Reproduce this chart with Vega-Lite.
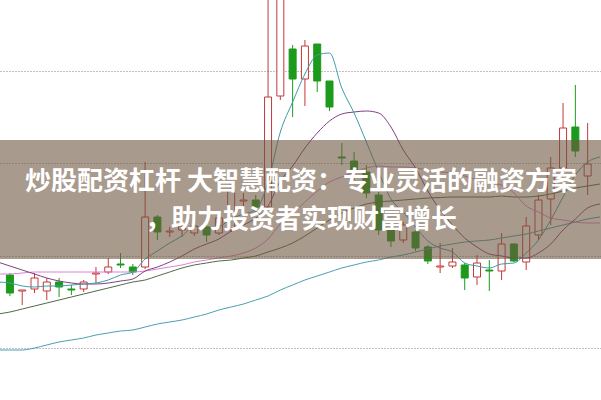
{
  "$schema": "https://vega.github.io/schema/vega-lite/v6.json",
  "width": 601,
  "height": 400,
  "autosize": {"type": "fit", "contains": "padding"},
  "padding": 0,
  "background": "white",
  "config": {"view": {"stroke": null}},
  "datasets": {
    "k": [
    {"i": -1, "m5": 118, "m10": 138, "m20": 126, "m30": 86, "m60": 50},
    {"i": 0, "o": 125, "c": 107, "h": 127, "l": 104, "m5": 117, "m10": 134, "m20": 126, "m30": 88, "m60": 50},
    {"i": 1, "o": 109, "c": 110, "h": 110, "l": 95, "m5": 114, "m10": 130, "m20": 127, "m30": 91, "m60": 50},
    {"i": 2, "o": 111, "c": 122, "h": 127, "l": 107, "m5": 113, "m10": 126, "m20": 128, "m30": 94, "m60": 52},
    {"i": 3, "o": 109, "c": 118, "h": 122, "l": 100, "m5": 114, "m10": 122, "m20": 128, "m30": 97, "m60": 55},
    {"i": 4, "o": 118, "c": 113, "h": 122, "l": 103, "m5": 114, "m10": 119, "m20": 128, "m30": 100, "m60": 58},
    {"i": 5, "o": 111, "c": 110, "h": 115, "l": 105, "m5": 115, "m10": 117, "m20": 128, "m30": 103, "m60": 60},
    {"i": 6, "o": 111, "c": 118, "h": 120, "l": 108, "m5": 116, "m10": 116, "m20": 128, "m30": 106, "m60": 62},
    {"i": 7, "o": 126, "c": 127, "h": 133, "l": 117, "m5": 117, "m10": 116, "m20": 128, "m30": 109, "m60": 65},
    {"i": 8, "o": 128, "c": 133, "h": 142, "l": 126, "m5": 120, "m10": 117, "m20": 128, "m30": 112, "m60": 67},
    {"i": 9, "o": 136, "c": 135, "h": 147, "l": 132, "m5": 125, "m10": 119, "m20": 128, "m30": 115, "m60": 69},
    {"i": 10, "o": 133, "c": 128, "h": 136, "l": 125, "m5": 128, "m10": 121, "m20": 128, "m30": 118, "m60": 70},
    {"i": 11, "o": 133, "c": 183, "h": 238, "l": 131, "m5": 141, "m10": 129, "m20": 129, "m30": 120, "m60": 73},
    {"i": 12, "o": 183, "c": 168, "h": 185, "l": 160, "m5": 149, "m10": 133, "m20": 131, "m30": 124, "m60": 76},
    {"i": 13, "o": 168, "c": 169, "h": 173, "l": 163, "m5": 157, "m10": 138, "m20": 133, "m30": 128, "m60": 78},
    {"i": 14, "o": 170, "c": 174, "h": 180, "l": 163, "m5": 164, "m10": 144, "m20": 135, "m30": 132, "m60": 80},
    {"i": 15, "o": 167, "c": 174, "h": 176, "l": 164, "m5": 174, "m10": 151, "m20": 138, "m30": 135, "m60": 83},
    {"i": 16, "o": 173, "c": 165, "h": 175, "l": 158, "m5": 170, "m10": 156, "m20": 140, "m30": 137, "m60": 86},
    {"i": 17, "o": 167, "c": 182, "h": 185, "l": 165, "m5": 173, "m10": 161, "m20": 142, "m30": 139, "m60": 90},
    {"i": 18, "o": 170, "c": 210, "h": 217, "l": 168, "m5": 181, "m10": 169, "m20": 144, "m30": 140, "m60": 93},
    {"i": 19, "o": 199, "c": 200, "h": 207, "l": 192, "m5": 186, "m10": 175, "m20": 147, "m30": 142, "m60": 96},
    {"i": 20, "o": 200, "c": 193, "h": 205, "l": 188, "m5": 190, "m10": 182, "m20": 152, "m30": 144, "m60": 100},
    {"i": 21, "o": 193, "c": 303, "h": 430, "l": 191, "m5": 218, "m10": 194, "m20": 161, "m30": 148, "m60": 104},
    {"i": 22, "o": 304, "c": 420, "h": 425, "l": 300, "m5": 268, "m10": 219, "m20": 176, "m30": 152, "m60": 110},
    {"i": 23, "o": 351, "c": 321, "h": 355, "l": 283, "m5": 298, "m10": 234, "m20": 186, "m30": 157, "m60": 115},
    {"i": 24, "o": 321, "c": 354, "h": 360, "l": 294, "m5": 326, "m10": 252, "m20": 198, "m30": 164, "m60": 120},
    {"i": 25, "o": 356, "c": 319, "h": 356, "l": 308, "m5": 345, "m10": 267, "m20": 209, "m30": 172, "m60": 124},
    {"i": 26, "o": 319, "c": 293, "h": 319, "l": 289, "m5": 347, "m10": 279, "m20": 218, "m30": 180, "m60": 128},
    {"i": 27, "o": 243, "c": 242, "h": 257, "l": 235, "m5": 312, "m10": 286, "m20": 223, "m30": 187, "m60": 132},
    {"i": 28, "o": 239, "c": 228, "h": 248, "l": 220, "m5": 287, "m10": 288, "m20": 228, "m30": 192, "m60": 135},
    {"i": 29, "o": 228, "c": 207, "h": 235, "l": 202, "m5": 258, "m10": 289, "m20": 232, "m30": 196, "m60": 138},
    {"i": 30, "o": 205, "c": 170, "h": 208, "l": 165, "m5": 228, "m10": 287, "m20": 234, "m30": 198, "m60": 140},
    {"i": 31, "o": 170, "c": 159, "h": 177, "l": 153, "m5": 201, "m10": 273, "m20": 233, "m30": 199, "m60": 143},
    {"i": 32, "o": 160, "c": 175, "h": 178, "l": 157, "m5": 188, "m10": 250, "m20": 233, "m30": 200, "m60": 145},
    {"i": 33, "o": 168, "c": 152, "h": 170, "l": 149, "m5": 173, "m10": 232, "m20": 232, "m30": 201, "m60": 148},
    {"i": 34, "o": 153, "c": 139, "h": 155, "l": 136, "m5": 159, "m10": 209, "m20": 230, "m30": 202, "m60": 151},
    {"i": 35, "o": 133, "c": 134, "h": 157, "l": 127, "m5": 152, "m10": 190, "m20": 228, "m30": 202.5, "m60": 154},
    {"i": 36, "o": 134, "c": 138, "h": 152, "l": 132, "m5": 148, "m10": 175, "m20": 227, "m30": 203, "m60": 156},
    {"i": 37, "o": 135, "c": 122, "h": 137, "l": 110, "m5": 137, "m10": 162, "m20": 224, "m30": 203, "m60": 158},
    {"i": 38, "o": 123, "c": 137, "h": 145, "l": 115, "m5": 134, "m10": 153, "m20": 220, "m30": 203, "m60": 159},
    {"i": 39, "o": 130, "c": 129, "h": 140, "l": 109, "m5": 132, "m10": 146, "m20": 217, "m30": 203, "m60": 160},
    {"i": 40, "o": 129, "c": 156, "h": 167, "l": 120, "m5": 136, "m10": 144, "m20": 215, "m30": 204, "m60": 162},
    {"i": 41, "o": 156, "c": 139, "h": 157, "l": 138, "m5": 137, "m10": 142, "m20": 207, "m30": 203, "m60": 164},
    {"i": 42, "o": 138, "c": 174, "h": 183, "l": 130, "m5": 147, "m10": 142, "m20": 194, "m30": 203, "m60": 166},
    {"i": 43, "o": 165, "c": 200, "h": 205, "l": 160, "m5": 160, "m10": 147, "m20": 188, "m30": 204, "m60": 169},
    {"i": 44, "o": 201, "c": 232, "h": 243, "l": 175, "m5": 180, "m10": 156, "m20": 182, "m30": 206, "m60": 172},
    {"i": 45, "o": 232, "c": 272, "h": 297, "l": 230, "m5": 203, "m10": 170, "m20": 180, "m30": 209, "m60": 175},
    {"i": 46, "o": 273, "c": 249, "h": 315, "l": 243, "m5": 225, "m10": 181, "m20": 178, "m30": 212, "m60": 178},
    {"i": 47, "o": 224, "c": 236, "h": 277, "l": 205, "m5": 238, "m10": 192, "m20": 177, "m30": 214, "m60": 181},
    {"i": 48, "m5": 243, "m10": 196, "m20": 177, "m30": 216, "m60": 183}
    ],
    "banner": [{"line1": "炒股配资杠杆 大智慧配资：专业灵活的融资方案", "line2": "，助力投资者实现财富增长"}]
  },
  "layer": [
    {
      "data": {"name": "k"},
      "transform": [{"filter": "datum.o != null"}],
      "mark": {"type": "rule", "strokeWidth": 1, "clip": true},
      "encoding": {
        "x": {"field": "i", "type": "quantitative", "scale": {"domain": [-0.4, 47.68], "nice": false, "zero": false}, "axis": null},
        "y": {"field": "l", "type": "quantitative", "scale": {"domain": [0, 400], "nice": false, "zero": false},
              "axis": {"values": [52, 144, 237, 329], "grid": true, "gridColor": "#808080", "gridDash": [1, 2], "gridWidth": 1, "labels": false, "ticks": false, "domain": false, "title": null}},
        "y2": {"field": "h"},
        "stroke": {"condition": {"test": "datum.c >= datum.o", "value": "#c4383a"}, "value": "#1c9a1c"}
      }
    },
    {
      "data": {"name": "k"},
      "transform": [{"filter": "datum.o != null"}],
      "mark": {"type": "bar", "width": 7, "strokeWidth": 1, "clip": true},
      "encoding": {
        "x": {"field": "i", "type": "quantitative"},
        "y": {"field": "o", "type": "quantitative"},
        "y2": {"field": "c"},
        "fill": {"condition": {"test": "datum.c >= datum.o", "value": "#ffffff"}, "value": "#1c9a1c"},
        "stroke": {"condition": {"test": "datum.c >= datum.o", "value": "#c4383a"}, "value": "#1c9a1c"}
      }
    },
    {
      "data": {"name": "k"},
      "mark": {"type": "line", "strokeWidth": 1, "color": "#4aa0b0", "interpolate": "monotone", "clip": true},
      "encoding": {"x": {"field": "i", "type": "quantitative"}, "y": {"field": "m60", "type": "quantitative"}}
    },
    {
      "data": {"name": "k"},
      "mark": {"type": "line", "strokeWidth": 1, "color": "#4f6b45", "interpolate": "monotone", "clip": true},
      "encoding": {"x": {"field": "i", "type": "quantitative"}, "y": {"field": "m30", "type": "quantitative"}}
    },
    {
      "data": {"name": "k"},
      "mark": {"type": "line", "strokeWidth": 1, "color": "#e07fd4", "interpolate": "monotone", "clip": true},
      "encoding": {"x": {"field": "i", "type": "quantitative"}, "y": {"field": "m20", "type": "quantitative"}}
    },
    {
      "data": {"name": "k"},
      "mark": {"type": "line", "strokeWidth": 1, "color": "#7e3f80", "interpolate": "monotone", "clip": true},
      "encoding": {"x": {"field": "i", "type": "quantitative"}, "y": {"field": "m10", "type": "quantitative"}}
    },
    {
      "data": {"name": "k"},
      "mark": {"type": "line", "strokeWidth": 1, "color": "#3d9ca8", "interpolate": "monotone", "clip": true},
      "encoding": {"x": {"field": "i", "type": "quantitative"}, "y": {"field": "m5", "type": "quantitative"}}
    },
    {
      "data": {"name": "banner"},
      "mark": {"type": "rect", "color": "#6e573f", "opacity": 0.6},
      "encoding": {
        "y": {"datum": 141, "type": "quantitative"},
        "y2": {"datum": 260}
      }
    },
    {
      "data": {"name": "banner"},
      "mark": {"type": "text", "font": "Noto Sans CJK SC", "fontWeight": "bold", "fontSize": 26, "color": "#ffffff", "align": "center", "baseline": "middle"},
      "encoding": {
        "x": {"datum": 23.68, "type": "quantitative"},
        "y": {"datum": 218, "type": "quantitative"},
        "text": {"field": "line1"}
      }
    },
    {
      "data": {"name": "banner"},
      "mark": {"type": "text", "font": "Noto Sans CJK SC", "fontWeight": "bold", "fontSize": 26, "color": "#ffffff", "align": "center", "baseline": "middle"},
      "encoding": {
        "x": {"datum": 23.68, "type": "quantitative"},
        "y": {"datum": 180, "type": "quantitative"},
        "text": {"field": "line2"}
      }
    }
  ]
}
